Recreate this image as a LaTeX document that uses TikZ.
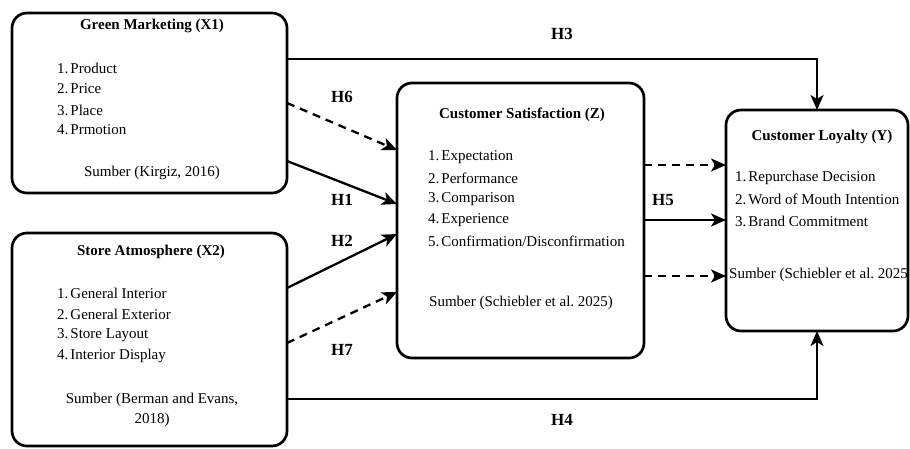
\documentclass[tikz,border=0pt]{standalone}
\usepackage{fontspec}
\setmainfont{Liberation Serif}
\usetikzlibrary{arrows.meta}
\frenchspacing
\tikzset{
  box/.style={draw, line width=2.7pt, rounded corners=15pt, inner sep=0pt, outer sep=0pt},
  ttl/.style={font=\fontsize{15}{18}\selectfont\bfseries, inner sep=0pt, anchor=center},
  itm/.style={font=\fontsize{15}{18}\selectfont, inner sep=0pt, anchor=west},
  src/.style={font=\fontsize{15}{18}\selectfont, inner sep=0pt},
  hyp/.style={font=\fontsize{17}{20}\selectfont\bfseries, inner sep=0pt},
  arr/.style={line width=2.3pt, -{Stealth[length=15pt,width=13pt,inset=4pt]}},
  darr/.style={arr, dash pattern=on 8pt off 6pt},
}
\begin{document}
\begin{tikzpicture}[x=1pt,y=-1pt]
\useasboundingbox (0,0) rectangle (910,448);
% boxes
\node[box, minimum width=275pt, minimum height=180pt] (gm) at (149.5,103) {};
\node[box, minimum width=275pt, minimum height=213pt] (sa) at (149.5,339.5) {};
\node[box, minimum width=247pt, minimum height=275pt] (cs) at (520.5,220.5) {};
\node[box, minimum width=182pt, minimum height=221pt] (cl) at (817,220.5) {};
% Green Marketing
\node[ttl] (gmt) at (152,26) {Green Marketing (X1)};
\node[itm] (gm1) at (57,68) {1.\hspace{2pt}Product};
\node[itm] (gm2) at (57,89) {2.\hspace{2pt}Price};
\node[itm] (gm3) at (57,110) {3.\hspace{2pt}Place};
\node[itm] (gm4) at (57,130) {4.\hspace{2pt}Prmotion};
\node[src] (gms) at (152,173) {Sumber (Kirgiz, 2016)};
% Store Atmosphere
\node[ttl] (sat) at (151,252) {Store Atmosphere (X2)};
\node[itm] (sa1) at (57,293) {1.\hspace{2pt}General Interior};
\node[itm] (sa2) at (57,314) {2.\hspace{2pt}General Exterior};
\node[itm] (sa3) at (57,335) {3.\hspace{2pt}Store Layout};
\node[itm] (sa4) at (57,356) {4.\hspace{2pt}Interior Display};
\node[src] (sas) at (152,400) {Sumber (Berman and Evans,};
\node[src] (sas2) at (152,420) {2018)};
% Customer Satisfaction
\node[ttl] (cst) at (522,115) {Customer Satisfaction (Z)};
\node[itm] (cs1) at (428,157) {1.\hspace{2pt}Expectation};
\node[itm] (cs2) at (428,178) {2.\hspace{2pt}Performance};
\node[itm] (cs3) at (428,199) {3.\hspace{2pt}Comparison};
\node[itm] (cs4) at (428,220) {4.\hspace{2pt}Experience};
\node[itm] (cs5) at (428,241) {5.\hspace{2pt}Confirmation/Disconfirmation};
\node[itm] (css) at (429,303) {Sumber (Schiebler et al. 2025)};
% Customer Loyalty
\node[ttl] (clt) at (822,137) {Customer Loyalty (Y)};
\node[itm] (cl1) at (735,178) {1.\hspace{2pt}Repurchase Decision};
\node[itm] (cl2) at (735,199) {2.\hspace{2pt}Word of Mouth Intention};
\node[itm] (cl3) at (735,221) {3.\hspace{2pt}Brand Commitment};
\node[itm] (cls) at (729,275) {Sumber (Schiebler et al. 2025};
% connectors
\draw[arr] (gm.east |- 0,59) -- (cl.north |- 0,59) -- (cl.north);
\draw[arr] (sa.east |- 0,399) -- (cl.south |- 0,399) -- (cl.south);
\draw[darr] (gm.east |- 0,103) -- (cs.west |- 0,150);
\draw[arr] (gm.east |- 0,161) -- (cs.west |- 0,204);
\draw[arr] (sa.east |- 0,288) -- (cs.west |- 0,234);
\draw[darr] (sa.east |- 0,343) -- (cs.west |- 0,292);
\draw[darr] (cs.east |- 0,165) -- (cl.west |- 0,165);
\draw[arr] (cs.east |- 0,220) -- (cl.west |- 0,220);
\draw[darr] (cs.east |- 0,276) -- (cl.west |- 0,276);
% labels
\node[hyp] (h3) at (562,34) {H3};
\node[hyp] (h4) at (562,420) {H4};
\node[hyp] (h6) at (342,97) {H6};
\node[hyp] (h1) at (342,200) {H1};
\node[hyp] (h2) at (342,241) {H2};
\node[hyp] (h7) at (342,350) {H7};
\node[hyp] (h5) at (663,200) {H5};
\end{tikzpicture}
\end{document}
